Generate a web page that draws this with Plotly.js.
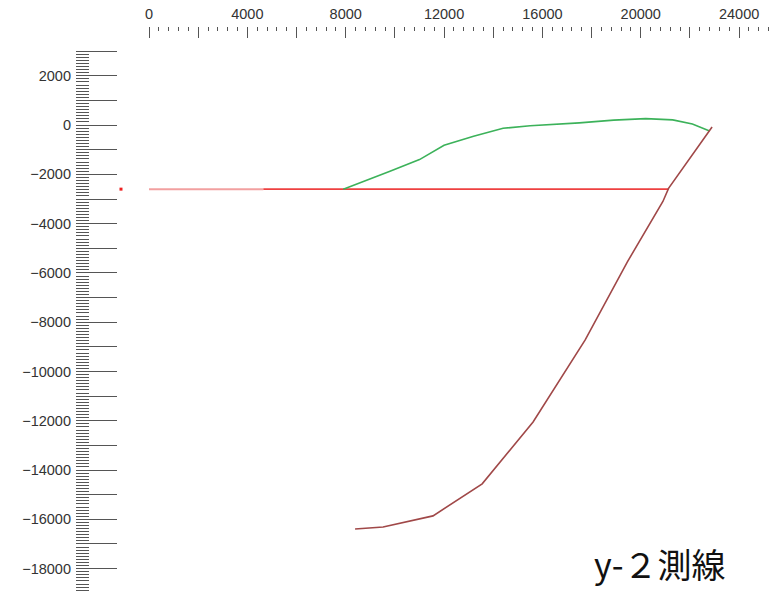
<!DOCTYPE html>
<html>
<head>
<meta charset="utf-8">
<script src="https://cdn.plot.ly/plotly-3.0.1.min.js"></script>
<style>
  html, body { margin: 0; padding: 0; background: #fff; }
  #chart { width: 776px; height: 594px; }
</style>
</head>
<body>
<div id="chart"></div>
<script>
// Survey line y-2: section profile (horizontal distance vs. elevation)

// Reference level line (light part and main part)
const levelLightX = [0, 4650];
const levelLightY = [-2600, -2600];
const levelMainX = [4650, 21130];
const levelMainY = [-2600, -2600];

// Upper (green) profile
const upperX = [7900, 8900, 9800, 11000, 12000, 13200, 14400, 15500, 16500, 17500, 18900, 20200, 21300, 22100, 22800];
const upperY = [-2600, -2200, -1870, -1400, -820, -450, -130, -30, 20, 90, 200, 260, 210, 40, -240];

// Lower (brown) profile
const lowerX = [22900, 21130, 20900, 19450, 17740, 15620, 13550, 11550, 9520, 8380];
const lowerY = [-80, -2570, -3100, -5560, -8720, -12050, -14560, -15860, -16310, -16390];

// Small level marker left of the profile
const markX = [-1140];
const markY = [-2600];

// Axis ticks and labels
const xTickVals = [0, 2000, 4000, 6000, 8000, 10000, 12000, 14000, 16000, 18000, 20000, 22000, 24000];
const xTickText = ['0', '', '4000', '', '8000', '', '12000', '', '16000', '', '20000', '', '24000'];
const yTickVals = [3000, 2000, 1000, 0, -1000, -2000, -3000, -4000, -5000, -6000, -7000, -8000, -9000, -10000,
                   -11000, -12000, -13000, -14000, -15000, -16000, -17000, -18000, -19000];
const yTickText = ['', '2000', '', '0', '', '\u22122000', '', '\u22124000', '', '\u22126000', '', '\u22128000', '',
                   '\u221210000', '', '\u221212000', '', '\u221214000', '', '\u221216000', '', '\u221218000', ''];

// Minor tick positions (between the major ticks)
const xMinor = [];
for (let v = 400; v <= 25600; v += 400) { if (v % 2000 !== 0) xMinor.push(v); }
const yMinor = [];
for (let v = 3000; v >= -19000; v -= 125) { if (v % 1000 !== 0) yMinor.push(v); }

const traces = [
  { x: levelLightX, y: levelLightY, mode: 'lines', line: { color: '#f2a0a0', width: 2 }, hoverinfo: 'skip' },
  { x: levelMainX, y: levelMainY, mode: 'lines', line: { color: '#ee4040', width: 1.6 }, hoverinfo: 'skip' },
  { x: upperX, y: upperY, mode: 'lines', line: { color: '#3cb25a', width: 1.6 }, hoverinfo: 'skip' },
  { x: lowerX, y: lowerY, mode: 'lines', line: { color: '#a04848', width: 1.6 }, hoverinfo: 'skip' },
  { x: markX, y: markY, mode: 'markers', marker: { symbol: 'square', size: 3, color: '#ee2020', line: { width: 0 } }, hoverinfo: 'skip' }
];

const tickFont = { family: 'Liberation Sans, Arial, sans-serif', size: 14.5, color: '#333' };

const layout = {
  width: 776,
  height: 594,
  margin: { l: 76, r: 0, t: 27, b: 0, pad: 0 },
  paper_bgcolor: '#ffffff',
  plot_bgcolor: '#ffffff',
  showlegend: false,
  xaxis: {
    side: 'top',
    range: [-2970, 25500],
    showgrid: false, zeroline: false, showline: false,
    tickmode: 'array', tickvals: xTickVals, ticktext: xTickText,
    ticks: 'inside', ticklen: 11, tickwidth: 1, tickcolor: '#555',
    ticklabelstandoff: 4,
    tickfont: tickFont,
    minor: { tickmode: 'array', tickvals: xMinor, ticks: 'inside', ticklen: 4, tickwidth: 1, tickcolor: '#555', showgrid: false },
    automargin: false, fixedrange: true
  },
  yaxis: {
    range: [-19030, 3980],
    showgrid: false, zeroline: false, showline: false,
    tickmode: 'array', tickvals: yTickVals, ticktext: yTickText,
    ticks: 'inside', ticklen: 41, tickwidth: 1, tickcolor: '#555',
    ticklabelstandoff: 4,
    tickfont: tickFont,
    minor: { tickmode: 'array', tickvals: yMinor, ticks: 'inside', ticklen: 13, tickwidth: 1, tickcolor: '#555', showgrid: false },
    automargin: false, fixedrange: true
  },
  annotations: [{
    text: 'y-２測線',
    xref: 'paper', yref: 'paper',
    x: 0.834, y: 0.053,
    xanchor: 'center', yanchor: 'middle',
    showarrow: false,
    font: { family: 'Noto Sans CJK JP, sans-serif', size: 34, color: '#111' }
  }]
};

Plotly.newPlot('chart', traces, layout, { staticPlot: true, displayModeBar: false });
</script>
</body>
</html>
